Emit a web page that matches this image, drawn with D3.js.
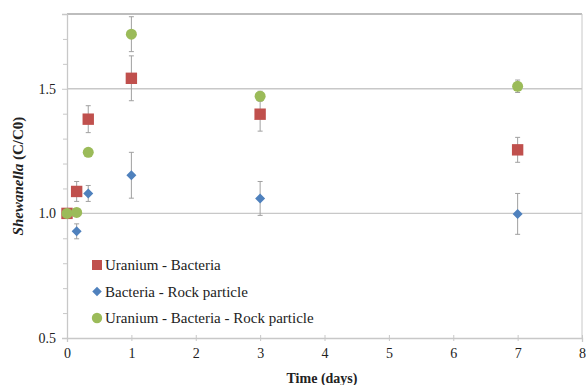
<!DOCTYPE html>
<html><head><meta charset="utf-8">
<script src="https://cdn.jsdelivr.net/npm/d3@7"></script>
<style>body{margin:0;background:#fff}</style>
</head><body>
<svg id="c" width="586" height="385" font-family="Liberation Serif">
<text id="xtitle" x="322" y="383" text-anchor="middle" font-family="Liberation Serif" font-size="14" font-weight="bold" fill="#222">Time (days)</text>
<text id="ytitle" transform="translate(23,175) rotate(-90)" text-anchor="middle" font-family="Liberation Serif" font-size="15" font-weight="bold" fill="#222"><tspan font-style="italic">Shewanella</tspan> (C/C0)</text>
</svg>
<script>
const times = [0, 0.15, 0.33, 1, 3, 7];
const seriesNames = ["Uranium - Bacteria", "Bacteria - Rock particle", "Uranium - Bacteria - Rock particle"];
const uraniumBacteria = [1.0, 1.088, 1.378, 1.542, 1.398, 1.255];
const uraniumBacteriaErr = [0, 0.04, 0.054, 0.09, 0.068, 0.05];
const bacteriaRock = [1.0, 0.928, 1.08, 1.153, 1.06, 0.998];
const bacteriaRockErr = [0, 0.03, 0.032, 0.092, 0.068, 0.082];
const uraniumBacteriaRock = [1.0, 1.004, 1.245, 1.719, 1.47, 1.51];
const uraniumBacteriaRockErr = [0, 0, 0, 0.07, 0.02, 0.025];
const xTicks = [0, 1, 2, 3, 4, 5, 6, 7, 8];
const yTicks = [0.5, 1.0, 1.5];
const yMinor = [0.6, 0.7, 0.8, 0.9, 1.1, 1.2, 1.3, 1.4, 1.6, 1.7];
const colors = ["#c0504d", "#4f81bd", "#9bbb59"];

const svg = d3.select("#c");
const x = d3.scaleLinear().domain([0, 8]).range([67, 582]);
const y = d3.scaleLinear().domain([0.5, 1.8]).range([338, 14]);
const FONT = "Liberation Serif";
const grid = "#c8c8c8";

svg.append("g").selectAll("line").data(yTicks.filter(v => v > 0.5)).join("line")
  .attr("x1", x(0)).attr("x2", x(8)).attr("y1", d => y(d)).attr("y2", d => y(d))
  .attr("stroke", grid).attr("stroke-width", 1.3);
svg.append("line").attr("x1", x(0)).attr("x2", x(8)).attr("y1", y(1.8)).attr("y2", y(1.8))
  .attr("stroke", "#bdbdbd").attr("stroke-width", 2);
svg.append("line").attr("x1", x(8)).attr("x2", x(8)).attr("y1", y(1.8)).attr("y2", y(0.5))
  .attr("stroke", grid).attr("stroke-width", 1);

const yAxis = svg.append("g").attr("transform", `translate(${x(0)},0)`)
  .call(d3.axisLeft(y).tickValues(yTicks).tickFormat(d3.format(".1f")).tickSize(5).tickPadding(6));
yAxis.attr("font-family", FONT);
yAxis.select(".domain").attr("stroke", grid).attr("stroke-width", 1.3);
yAxis.selectAll(".tick line").attr("stroke", grid);
yAxis.selectAll("text").attr("font-family", FONT).attr("font-size", 14).attr("fill", "#222");
svg.append("g").attr("transform", `translate(${x(0)},0)`)
  .call(d3.axisLeft(y).tickValues(yMinor).tickFormat("").tickSize(4))
  .call(g => g.select(".domain").remove())
  .selectAll("line").attr("stroke", grid);

const xAxis = svg.append("g").attr("transform", `translate(0,${y(0.5)})`)
  .call(d3.axisBottom(x).tickValues(xTicks).tickFormat(d3.format("d")).tickSize(4).tickPadding(6));
xAxis.attr("font-family", FONT);
xAxis.select(".domain").attr("stroke", grid).attr("stroke-width", 1.3);
xAxis.selectAll(".tick line").attr("stroke", grid).attr("y1", -3).attr("y2", 3);
xAxis.selectAll("text").attr("font-family", FONT).attr("font-size", 14).attr("fill", "#222");

d3.select("#ytitle").attr("transform", `translate(23,${y(1.15)}) rotate(-90)`);

const diamond = {draw(ctx, size) { const r = Math.sqrt(size / 2); ctx.moveTo(0, -r); ctx.lineTo(r, 0); ctx.lineTo(0, r); ctx.lineTo(-r, 0); ctx.closePath(); }};
const series = [
  {name: seriesNames[0], vals: uraniumBacteria, err: uraniumBacteriaErr, sym: d3.symbolSquare, size: 130, lsize: 100},
  {name: seriesNames[1], vals: bacteriaRock, err: bacteriaRockErr, sym: diamond, size: 50, lsize: 45},
  {name: seriesNames[2], vals: uraniumBacteriaRock, err: uraniumBacteriaRockErr, sym: d3.symbolCircle, size: 95, lsize: 85}
];

series.forEach((s, i) => {
  const pts = times.map((t, j) => ({t, v: s.vals[j], e: s.err[j]})).filter(p => p.e > 0);
  const eb = svg.append("g").attr("stroke", "#a0a0a0").attr("stroke-width", 1);
  eb.selectAll(".v").data(pts).join("line")
    .attr("x1", p => x(p.t)).attr("x2", p => x(p.t))
    .attr("y1", p => y(p.v - p.e)).attr("y2", p => y(p.v + p.e));
  [1, -1].forEach(sg => {
    eb.append("g").selectAll("line").data(pts).join("line")
      .attr("x1", p => x(p.t) - 2.5).attr("x2", p => x(p.t) + 2.5)
      .attr("y1", p => y(p.v + sg * p.e)).attr("y2", p => y(p.v + sg * p.e));
  });
});
series.forEach((s, i) => {
  const pts = times.map((t, j) => ({t, v: s.vals[j]}));
  svg.append("g").selectAll("path").data(pts).join("path")
    .attr("transform", p => `translate(${x(p.t)},${y(p.v)})`)
    .attr("d", d3.symbol().type(s.sym).size(s.size))
    .attr("fill", colors[i]);
});

series.forEach((s, i) => {
  const ly = 265 + i * 26.5;
  svg.append("path").attr("transform", `translate(97,${ly})`)
    .attr("d", d3.symbol().type(s.sym).size(s.lsize)).attr("fill", colors[i]);
  svg.append("text").attr("x", 105).attr("y", ly + 5).attr("font-family", FONT)
    .attr("font-size", 15).attr("fill", "#222").text(s.name);
});
</script>
</body></html>
